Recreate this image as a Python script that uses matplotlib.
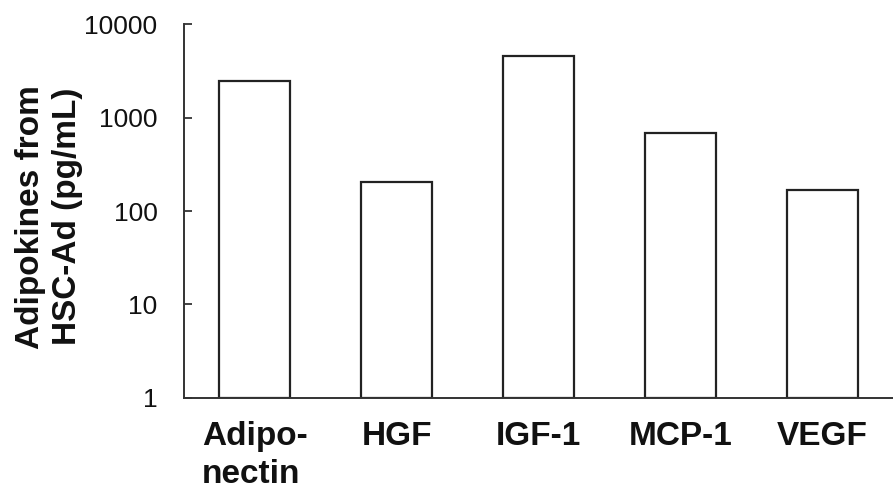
import matplotlib
matplotlib.use("Agg")
import matplotlib.pyplot as plt

categories = ["Adipo-\nnectin", "HGF", "IGF-1", "MCP-1", "VEGF"]
values = [2440, 201, 4550, 678, 166]
yticks = [1, 10, 100, 1000, 10000]
ytick_labels = ["1", "10", "100", "1000", "10000"]

plt.rcParams['font.family'] = ['Liberation Sans', 'DejaVu Sans']

fig = plt.figure(figsize=(8.93, 4.93), dpi=100)
ax = fig.add_axes([0.206, 0.193, 0.794, 0.758])

x = list(range(len(categories)))
ax.bar(x, values, width=0.5, bottom=1, color="white", edgecolor="#222222", linewidth=1.6)

ax.set_yscale("log")
ax.set_ylim(1, 10000)
ax.set_xlim(-0.5, 4.5)
ax.set_yticks(yticks)
ax.set_yticklabels(ytick_labels, fontsize=19)
ax.yaxis.set_minor_locator(matplotlib.ticker.NullLocator())
ax.tick_params(axis='y', direction='in', length=6, width=1.2, pad=19, colors="#222222", labelcolor="#111111")

ax.set_xticks(x)
ax.set_xticklabels(categories, fontsize=24, fontweight='bold', multialignment='left', linespacing=1.27)
ax.tick_params(axis='x', length=0, pad=17, labelcolor="#111111")

for s in ["top", "right"]:
    ax.spines[s].set_visible(False)
for s in ["left", "bottom"]:
    ax.spines[s].set_linewidth(1.4)
    ax.spines[s].set_color("#333333")

ax.set_ylabel("Adipokines from\nHSC-Ad (pg/mL)", fontsize=24, fontweight='bold', linespacing=1.25, color="#111111")
ax.yaxis.set_label_coords(-0.143, 0.485)

fig.savefig("out.png", dpi=100)
